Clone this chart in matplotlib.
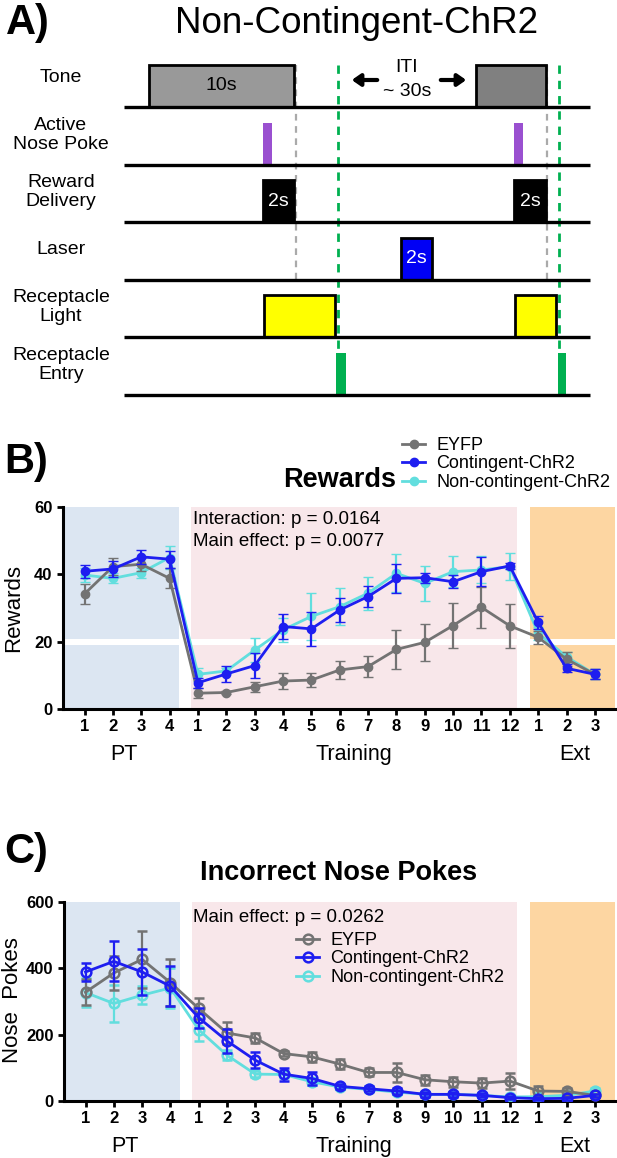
import matplotlib
matplotlib.use("Agg")
import matplotlib.pyplot as plt
from matplotlib.lines import Line2D
from matplotlib.patches import Rectangle
import numpy as np

plt.rcParams["font.family"] = ["Liberation Sans", "DejaVu Sans"]

W, H = 617, 1158

# ---------------------------------------------------------------------------
# Data
# ---------------------------------------------------------------------------
TICK_LABELS = ["1", "2", "3", "4",
               "1", "2", "3", "4", "5", "6", "7", "8", "9", "10", "11", "12",
               "1", "2", "3"]
GROUP_LABELS = ["PT", "Training", "Ext"]
GROUP_CENTERS = [1.4, 9.5, 17.3]
SERIES_NAMES = ["EYFP", "Contingent-ChR2", "Non-contingent-ChR2"]

rewards_eyfp = [34.2, 42.3, 43.0, 38.8, 4.7, 4.9, 6.6, 8.3, 8.6, 11.6, 12.6,
                17.7, 19.8, 24.8, 30.2, 24.7, 21.3, 14.8, 10.3]
rewards_eyfp_err = [3, 2.5, 2, 3, 1.5, 0.5, 1.5, 2.5, 2, 2.7, 3.2, 5.8, 5.4,
                    6.6, 6, 6.6, 2, 2, 1.5]
rewards_cont = [40.9, 41.6, 45.2, 44.5, 7.8, 10.4, 12.9, 24.5, 23.8, 29.4,
                33.4, 38.8, 39.0, 37.8, 40.8, 42.5, 25.7, 12.1, 10.3]
rewards_cont_err = [2, 2.5, 2, 2.5, 1.5, 2.5, 3.8, 3.8, 5, 3.5, 3.2, 4.2, 1.5,
                    2, 4.3, 1, 2, 1.2, 1.5]
rewards_noncont = [39.8, 38.8, 40.5, 45.0, 10.3, 11.3, 17.5, 23.5, 27.5, 30.4,
                   34.4, 40.3, 37.3, 40.8, 41.3, 42.3, 22.5, 15.5, 10.3]
rewards_noncont_err = [2, 1.5, 1.5, 3.5, 2, 1, 3.5, 3.5, 7, 5.4, 4.9, 5.6, 5.2,
                       4.5, 4, 3.9, 2, 1.5, 1.5]

pokes_eyfp = [328, 386, 427, 357, 279, 205, 190, 143, 133, 111, 86, 86, 64,
              58, 54, 60, 30, 29, 17]
pokes_eyfp_err = [40, 50, 85, 70, 33, 33, 15, 7, 15, 15, 12, 30, 15, 15, 15,
                  25, 15, 10, 5]
pokes_cont = [389, 421, 389, 346, 251, 181, 123, 81, 68, 44, 37, 30, 20, 20,
              17, 10, 7, 8, 17]
pokes_cont_err = [27, 60, 70, 60, 30, 35, 25, 20, 20, 8, 8, 8, 7, 7, 6, 5, 4,
                  4, 5]
pokes_noncont = [327, 294, 319, 341, 215, 138, 81, 80, 58, 42, 35, 27, 20, 20,
                 17, 12, 13, 17, 30]
pokes_noncont_err = [45, 57, 27, 60, 35, 15, 10, 10, 10, 7, 7, 7, 6, 6, 6, 5,
                     5, 5, 8]

# Timing diagram (panel A): row names and events (row, start, end, fill, text)
ROW_LABELS = ["Tone", "Active\nNose Poke", "Reward\nDelivery", "Laser",
              "Receptacle\nLight", "Receptacle\nEntry"]
EVENTS = [
    (0, 149, 294, "#999999", "10s"),
    (0, 476, 546, "#808080", ""),
    (1, 263, 272, "#9a50d0", ""),
    (1, 514, 523, "#9a50d0", ""),
    (2, 263, 294, "#000000", "2s"),
    (2, 514, 546, "#000000", "2s"),
    (3, 401, 432, "#0000f5", "2s"),
    (4, 264, 335, "#ffff00", ""),
    (4, 515, 556, "#ffff00", ""),
    (5, 336, 346, "#00b050", ""),
    (5, 558, 566, "#00b050", ""),
]
TONE_END = [296, 547]
ENTRY_TIMES = [338, 559]

# ---------------------------------------------------------------------------
# Styling
# ---------------------------------------------------------------------------
COLORS = ["#737373", "#1e1ef0", "#62dede"]
PT_COLOR = "#dce6f2"
TRAIN_COLOR = "#f8e7ea"
EXT_COLOR = "#fdd6a2"
XMIN, XMAX = -0.76, 18.71
TICK_FS = 12
LABEL_FS = 16


def px_rect(left, top, right, bottom):
    return [left / W, 1 - bottom / H, (right - left) / W, (bottom - top) / H]


fig = plt.figure(figsize=(W / 100, H / 100), dpi=100)

# ---------------------------------------------------------------------------
# Panel A: timing diagram
# ---------------------------------------------------------------------------
axA = fig.add_axes([0, 0, 1, 1])
axA.set_xlim(0, W)
axA.set_ylim(H, 0)
axA.axis("off")

row0, row_step, box_h = 107, 57.6, 42
baselines = [row0 + i * row_step for i in range(len(ROW_LABELS))]

axA.text(6, 34, "A)", fontsize=30, fontweight="bold", va="baseline")
axA.text(357, 33, "Non-Contingent-ChR2", fontsize=26.5, ha="center",
         va="baseline")

for y, lab in zip(baselines, ROW_LABELS):
    axA.plot([124, 590], [y, y], color="black", lw=2.4, solid_capstyle="butt",
             zorder=3)
    axA.text(61, y - 30, lab, fontsize=14, ha="center", va="center",
             linespacing=1.15)

for row, x0, x1, fill, label in EVENTS:
    yb = baselines[row]
    thin = (x1 - x0) < 12
    axA.add_patch(Rectangle((x0, yb - box_h), x1 - x0, box_h,
                            facecolor=fill,
                            edgecolor="none" if thin else "black",
                            lw=0 if thin else 2.0, zorder=2))
    if label:
        axA.text((x0 + x1) / 2, yb - box_h / 2, label, fontsize=14,
                 ha="center", va="center",
                 color="black" if fill == "#999999" else "white", zorder=4)

for x in TONE_END:
    axA.plot([x, x], [baselines[0] - box_h, baselines[3]], color="#aaaaaa",
             lw=1.6, ls=(0, (3, 2.5)), zorder=1)
for x in ENTRY_TIMES:
    axA.plot([x, x], [baselines[0] - box_h, baselines[5] - box_h],
             color="#00b050", lw=2.0, ls=(0, (3, 2.5)), zorder=1)

axA.text(407, 67, "ITI", fontsize=14, ha="center", va="center")
axA.text(407, 91, "~ 30s", fontsize=14, ha="center", va="center")
arrow = dict(arrowstyle="-|>,head_length=0.5,head_width=0.35", color="black",
             lw=3)
axA.annotate("", xy=(349, 80), xytext=(380, 80), arrowprops=arrow)
axA.annotate("", xy=(469, 80), xytext=(438, 80), arrowprops=arrow)


# ---------------------------------------------------------------------------
# Panels B and C
# ---------------------------------------------------------------------------
def draw_panel(ax, values, errors, ytop, yticks, filled):
    x = np.arange(len(TICK_LABELS))
    ax.axvspan(XMIN, 3.33, color=PT_COLOR, lw=0, zorder=0)
    ax.axvspan(3.755, 15.25, color=TRAIN_COLOR, lw=0, zorder=0)
    ax.axvspan(15.71, XMAX, color=EXT_COLOR, lw=0, zorder=0)

    order = [2, 0, 1]
    for z, i in enumerate(order):
        c = COLORS[i]
        ax.errorbar(x, values[i], yerr=errors[i], color=c, lw=2.0,
                    marker="o", ms=6 if filled else 7,
                    mfc=c if filled else "none", mec=c,
                    mew=1.0 if filled else 1.8,
                    capsize=3.5, capthick=1.6, elinewidth=1.6,
                    zorder=3 + z)

    ax.set_xlim(XMIN, XMAX)
    ax.set_ylim(0, ytop)
    ax.set_xticks(x, labels=TICK_LABELS, fontsize=TICK_FS, fontweight="bold")
    ax.set_yticks(yticks, labels=[str(t) for t in yticks], fontsize=TICK_FS,
                  fontweight="bold")
    for side in ["top", "right"]:
        ax.spines[side].set_visible(False)
    for side in ["left", "bottom"]:
        ax.spines[side].set_linewidth(2.2)
    ax.tick_params(direction="out", length=4.5, width=2, pad=3)
    ax.set_facecolor("none")
    for lab, pos in zip(GROUP_LABELS, GROUP_CENTERS):
        ax.annotate(lab, xy=(pos, 0), xycoords=("data", "axes fraction"),
                    xytext=(0, -33), textcoords="offset points",
                    ha="center", va="center", fontsize=15.5)


def legend_handles(filled):
    return [Line2D([0], [0], color=c, lw=2.0, marker="o",
                   ms=6 if filled else 7, mfc=c if filled else "none",
                   mec=c, mew=1.0 if filled else 1.8) for c in COLORS]


# Panel B
axB = fig.add_axes(px_rect(63, 507, 615, 709))
axB.axhspan(19.0, 20.8, color="white", lw=0, zorder=1)
draw_panel(axB,
           [rewards_eyfp, rewards_cont, rewards_noncont],
           [rewards_eyfp_err, rewards_cont_err, rewards_noncont_err],
           60, [0, 20, 40, 60], filled=True)
fig.text(4 / W, 1 - 473 / H, "B)", fontsize=30, fontweight="bold",
         va="baseline")
fig.text(340 / W, 1 - 487 / H, "Rewards", fontsize=19.5, fontweight="bold",
         ha="center", va="baseline")
fig.text(14 / W, 1 - 608 / H, "Rewards", fontsize=LABEL_FS, rotation=90,
         ha="center", va="center")
fig.text(193 / W, 1 - 520 / H, "Interaction: p = 0.0164", fontsize=13.5,
         va="center")
fig.text(193 / W, 1 - 542 / H, "Main effect: p = 0.0077", fontsize=13.5,
         va="center")
fig.legend(handles=legend_handles(True), labels=SERIES_NAMES,
           loc="upper left", bbox_to_anchor=(402 / W, 1 - 437 / H),
           frameon=False, fontsize=13, handlelength=1.3, handletextpad=0.6,
           labelspacing=0.08, borderpad=0, borderaxespad=0)

# Panel C
axC = fig.add_axes(px_rect(64, 902, 615, 1101))
draw_panel(axC,
           [pokes_eyfp, pokes_cont, pokes_noncont],
           [pokes_eyfp_err, pokes_cont_err, pokes_noncont_err],
           600, [0, 200, 400, 600], filled=False)
fig.text(4 / W, 1 - 863 / H, "C)", fontsize=30, fontweight="bold",
         va="baseline")
fig.text(339 / W, 1 - 880 / H, "Incorrect Nose Pokes", fontsize=19.5,
         fontweight="bold", ha="center", va="baseline")
fig.text(13 / W, 1 - 1000 / H, "Nose  Pokes", fontsize=LABEL_FS, rotation=90,
         ha="center", va="center")
fig.text(193 / W, 1 - 917 / H, "Main effect: p = 0.0262", fontsize=13.5,
         va="center")
axC.legend(handles=legend_handles(False), labels=SERIES_NAMES,
           loc="upper left", bbox_to_anchor=(296 / W, 1 - 932 / H),
           bbox_transform=fig.transFigure,
           frameon=False, fontsize=13, handlelength=1.3, handletextpad=0.6,
           labelspacing=0.08, borderpad=0, borderaxespad=0)

fig.savefig("out.png", dpi=100)
